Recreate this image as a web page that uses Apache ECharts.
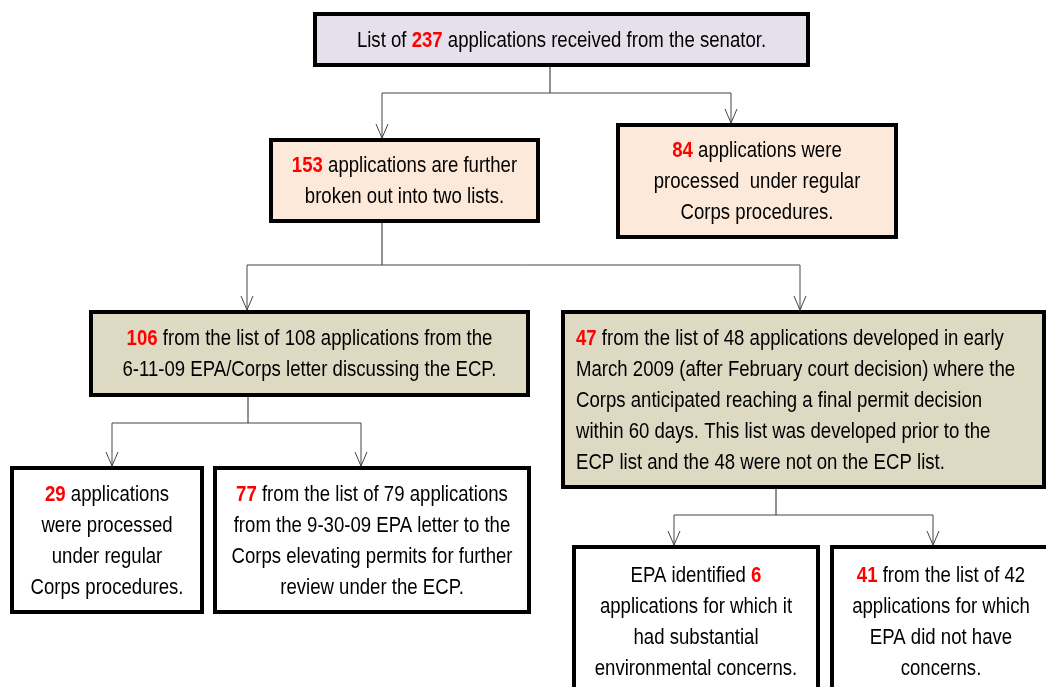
<!DOCTYPE html>
<html>
<head>
<meta charset="utf-8">
<script src="https://cdn.jsdelivr.net/npm/echarts@6/dist/echarts.min.js"></script>
<style>
  html, body { margin: 0; padding: 0; background: #fff; }
  #chart { width: 1046px; height: 687px; }
</style>
</head>
<body>
<div id="chart"></div>
<script>
// counts shown in red, one per box
const counts = [237, 153, 84, 106, 47, 29, 77, 6, 41];
// box texts, "#" is where the red count goes
const boxTexts = [
  "List of # applications received from the senator.",
  "# applications are further\nbroken out into two lists.",
  "# applications were\nprocessed  under regular\nCorps procedures.",
  "# from the list of 108 applications from the\n6-11-09 EPA/Corps letter discussing the ECP.",
  "# from the list of 48 applications developed in early\nMarch 2009 (after February court decision) where the\nCorps anticipated reaching a final permit decision\nwithin 60 days. This list was developed prior to the\nECP list and the 48 were not on the ECP list.",
  "# applications\nwere processed\nunder regular\nCorps procedures.",
  "# from the list of 79 applications\nfrom the 9-30-09 EPA letter to the\nCorps elevating permits for further\nreview under the ECP.",
  "EPA identified #\napplications for which it\nhad substantial\nenvironmental concerns.",
  "# from the list of 42\napplications for which\nEPA did not have\nconcerns."
];
// which box flows into which
const links = [[0, 1, 2], [1, 3, 4], [3, 5, 6], [4, 7, 8]];

// layout (diagram space = pixels of the 1046x687 page)
const boxRects = [
  [313, 12, 810, 67],
  [269, 138, 540, 223],
  [616, 123, 898, 239],
  [89, 310, 530, 397],
  [561, 310, 1046, 489],
  [10, 466, 204, 614],
  [213, 466, 531, 614],
  [572, 545, 820, 697],
  [830, 545, 1052, 697]
];
const boxFills = ['#e6e0ec', '#fde9d9', '#fde9d9', '#ddd9c3', '#ddd9c3', '#fff', '#fff', '#fff', '#fff'];
const leftAligned = [4];
// elbow connectors: stem x, bar y, drop x for each child
const linkLayout = [
  { x: 550, bar: 93, drops: [382, 731] },
  { x: 382, bar: 265, drops: [247, 800] },
  { x: 248, bar: 423, drops: [112, 361] },
  { x: 776, bar: 515, drops: [674, 933] }
];

// no narrow face installed, so squeeze Liberation Sans sideways
const FONT = '"Liberation Sans Narrow", "Liberation Sans", Arial, sans-serif';
const SQUEEZE = 0.845;

const chart = echarts.init(document.getElementById('chart'));

const boxSeries = {
  type: 'custom',
  z: 3,
  silent: true,
  clip: false,
  data: boxRects.map((r, i) => ({ value: r, name: String(counts[i]) })),
  renderItem: function (params, api) {
    const i = params.dataIndex;
    const p0 = api.coord([api.value(0), api.value(1)]);
    const p1 = api.coord([api.value(2), api.value(3)]);
    const left = leftAligned.indexOf(i) >= 0;
    const text = boxTexts[i].replace('#', '{n|' + counts[i] + '}');
    return {
      type: 'group',
      children: [
        {
          type: 'rect',
          shape: { x: p0[0] + 2, y: p0[1] + 2, width: p1[0] - p0[0] - 4, height: p1[1] - p0[1] - 4 },
          style: { fill: boxFills[i], stroke: '#000', lineWidth: 4 }
        },
        {
          type: 'text',
          x: left ? p0[0] + 15 : (p0[0] + p1[0]) / 2,
          y: (p0[1] + p1[1]) / 2 + 1,
          scaleX: SQUEEZE,
          style: {
            text: text,
            x: 0,
            y: 0,
            align: left ? 'left' : 'center',
            verticalAlign: 'middle',
            fill: '#000',
            font: '22px ' + FONT,
            lineHeight: 31,
            rich: {
              n: { fill: '#ff0000', font: 'bold 22px ' + FONT, lineHeight: 31 }
            }
          }
        }
      ]
    };
  }
};

const linkSeries = {
  type: 'custom',
  z: 2,
  silent: true,
  clip: false,
  data: links.map((l, i) => ({ value: [linkLayout[i].x, linkLayout[i].bar], name: l.join('-') })),
  renderItem: function (params, api) {
    const i = params.dataIndex;
    const lay = linkLayout[i];
    const from = boxRects[links[i][0]];
    const stemTop = api.coord([lay.x, from[3] - 2]);
    const stemBot = api.coord([lay.x, lay.bar]);
    const children = [
      { type: 'line', shape: { x1: stemTop[0], y1: stemTop[1], x2: stemBot[0], y2: stemBot[1] },
        style: { stroke: '#222', lineWidth: 1 } }
    ];
    const a = api.coord([lay.drops[0], lay.bar]);
    const b = api.coord([lay.drops[1], lay.bar]);
    children.push({ type: 'line', shape: { x1: a[0], y1: a[1], x2: b[0], y2: b[1] },
      style: { stroke: '#444', lineWidth: 1 } });
    lay.drops.forEach((dx, k) => {
      const child = boxRects[links[i][k + 1]];
      const top = api.coord([dx, lay.bar]);
      const tip = api.coord([dx, child[1]]);
      children.push({ type: 'line', shape: { x1: top[0], y1: top[1], x2: tip[0], y2: tip[1] },
        style: { stroke: '#444', lineWidth: 1 } });
      children.push({ type: 'polyline',
        shape: { points: [[tip[0] - 6, tip[1] - 14], [tip[0], tip[1]], [tip[0] + 6, tip[1] - 14]] },
        style: { stroke: '#444', lineWidth: 1, fill: 'none' } });
    });
    return { type: 'group', children: children };
  }
};

chart.setOption({
  animation: false,
  backgroundColor: '#fff',
  grid: { left: 0, right: 0, top: 0, bottom: 0 },
  xAxis: { type: 'value', min: 0, max: 1046, show: false },
  yAxis: { type: 'value', min: 0, max: 687, inverse: true, show: false },
  series: [linkSeries, boxSeries]
});
</script>
</body>
</html>
